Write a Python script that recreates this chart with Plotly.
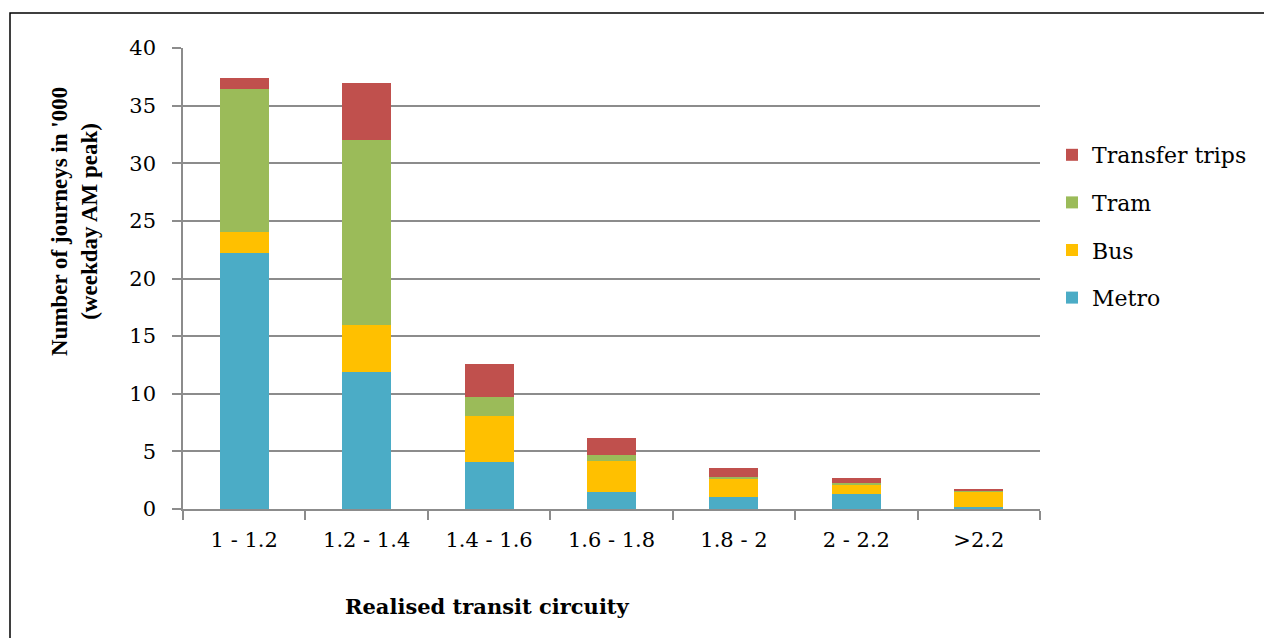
import plotly.graph_objects as go

categories = ["1 - 1.2", "1.2 - 1.4", "1.4 - 1.6", "1.6 - 1.8", "1.8 - 2", "2 - 2.2", ">2.2"]
metro = [22.2, 11.85, 4.05, 1.45, 1.05, 1.33, 0.2]
bus = [1.8, 4.15, 4.05, 2.7, 1.63, 0.82, 1.28]
tram = [12.4, 16.05, 1.6, 0.57, 0.11, 0.09, 0.05]
transfer = [1.0, 4.9, 2.9, 1.46, 0.81, 0.46, 0.22]

series = [
    ("Metro", metro, "#4BACC6", 4),
    ("Bus", bus, "#FFC000", 3),
    ("Tram", tram, "#9BBB59", 2),
    ("Transfer trips", transfer, "#C0504D", 1),
]

fig = go.Figure()
for name, vals, col, rank in series:
    fig.add_trace(go.Bar(x=categories, y=vals, name=name, marker_color=col,
                         marker_line_width=0, legendgroup=name, legendrank=rank))

W, H = 1264, 638
L, R, T, B = 183, 224, 48, 129
pw, ph = W - L - R, H - T - B

def px(x):
    return (x - L) / pw

def py(y):
    return (H - B - y) / ph

wide = "DejaVu Serif"
times = "Liberation Serif"
fig.update_layout(
    width=W, height=H,
    margin=dict(l=L, r=R, t=T, b=B, autoexpand=False),
    barmode="stack", bargap=0.6,
    plot_bgcolor="white", paper_bgcolor="white",
    font=dict(family=wide, size=21, color="black"),
    legend=dict(x=px(1052), y=py(134), xanchor="left", yanchor="top",
                traceorder="grouped", tracegroupgap=16,
                font=dict(size=22, family=wide), itemwidth=30),
    showlegend=True,
)
fig.update_yaxes(range=[0, 40], dtick=5, showgrid=True, gridcolor="#8C8C8C", gridwidth=1.5,
                 showline=True, linecolor="#8C8C8C", linewidth=1.5,
                 ticks="outside", ticklen=9, tickcolor="#8C8C8C", tickwidth=1.5,
                 tickfont=dict(size=21, family=wide), ticklabelstandoff=12)
fig.update_xaxes(showline=True, linecolor="#8C8C8C", linewidth=1.5,
                 ticks="outside", ticklen=9, tickcolor="#8C8C8C", tickwidth=1.5,
                 tickson="boundaries", ticklabelstandoff=11,
                 tickfont=dict(size=21, family=wide))
fig.add_annotation(text="<b>Number of journeys in '000<br>(weekday AM peak)</b>",
                   xref="paper", yref="paper", x=px(75), y=py(222), textangle=-90,
                   showarrow=False, font=dict(size=23, family=times),
                   xanchor="center", yanchor="middle")
fig.add_annotation(text="<b>Realised transit circuity</b>", xref="paper", yref="paper",
                   x=px(487), y=py(606), showarrow=False,
                   font=dict(size=21, family=wide),
                   xanchor="center", yanchor="middle")
fig.add_shape(type="rect", xref="paper", yref="paper",
              x0=px(10), y0=py(700), x1=px(1300), y1=py(13),
              line=dict(color="black", width=1.5), fillcolor="rgba(0,0,0,0)", layer="below")

fig.write_html("out.html", config={"displayModeBar": False},
               post_script="document.body.style.margin='0';")
